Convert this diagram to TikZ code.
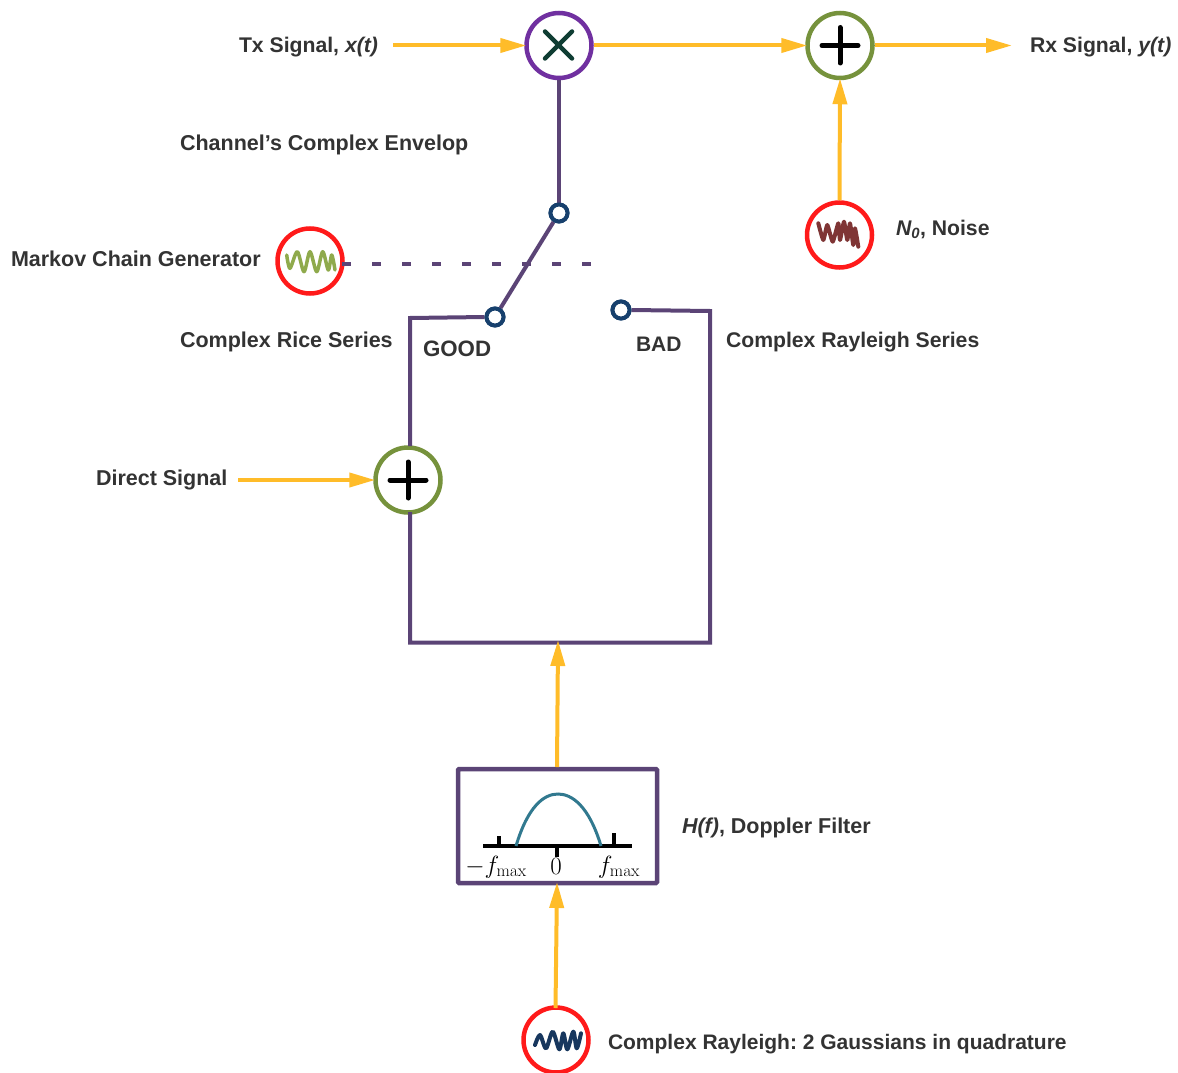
\documentclass[tikz,border=0pt]{standalone}
\usepackage[no-math]{fontspec}
\setmainfont{Liberation Sans}
\usetikzlibrary{arrows.meta,shadows}
\definecolor{flow}{HTML}{FFBC29}
\definecolor{wire}{HTML}{5B4476}
\definecolor{ringpurple}{HTML}{7030A0}
\definecolor{ringgreen}{HTML}{76923C}
\definecolor{ringred}{HTML}{FF1A1A}
\definecolor{switchblue}{HTML}{17406D}
\definecolor{txt}{HTML}{333333}
\definecolor{crossgreen}{HTML}{0F3D33}
\definecolor{bellteal}{HTML}{31798F}
\definecolor{wavegreen}{HTML}{8FAA4C}
\definecolor{wavered}{HTML}{7F3535}
\definecolor{waveblue}{HTML}{17375E}
\tikzset{
  ring/.style={circle,draw=#1,line width=4.5pt,fill=white,minimum size=65pt,inner sep=0pt,
    drop shadow={shadow xshift=1.5pt,shadow yshift=-1.5pt,opacity=.3,fill=gray}},
  contact/.style={circle,draw=switchblue,line width=4pt,fill=white,minimum size=17pt,inner sep=0pt},
  flowarrow/.style={draw=flow,line width=4pt,-{Triangle[length=26pt,width=14pt,fill=flow]},shorten >=-2pt},
  wireline/.style={draw=wire,line width=4pt},
  lbl/.style={anchor=base west,text=txt,font=\fontsize{21.5pt}{24pt}\selectfont\bfseries\frenchspacing,inner sep=0pt,outer sep=0pt},
  lblsmall/.style={lbl,font=\fontsize{21.2pt}{24pt}\selectfont\bfseries\frenchspacing},
  mathlbl/.style={anchor=base,text=black,font=\fontsize{23pt}{26pt}\selectfont,inner sep=0pt},
  wave/.style={line width=4pt,line join=round,line cap=round}
}
\begin{document}
\begin{tikzpicture}[x=1pt,y=-1pt]
\useasboundingbox (0,0) rectangle (1178,1073);
% junctions and sources
\node[ring=ringpurple] (mult) at (559,45.5) {};
\node[ring=ringgreen] (sumrx) at (840,45.5) {};
\node[ring=ringred] (noise) at (839.5,235) {};
\node[ring=ringred] (markov) at (310,261) {};
\node[ring=ringgreen] (sumd) at (408,480) {};
\node[ring=ringred] (gauss) at (556,1040) {};
\node[draw=wire,line width=4.5pt,fill=white,minimum width=199pt,minimum height=114pt,inner sep=0pt,rounded corners=1pt] (filter) at (557.5,826) {};
% free ends
\coordinate (txin) at (393,45.5);
\coordinate (rxout) at (1010,45.5);
\coordinate (dsin) at (238,480);
\coordinate (tl) at (410,318);
\coordinate (dl) at (410,512);
\coordinate (dt) at (410,446);
\coordinate (bl) at (410,642.5);
\coordinate (br) at (710,642.5);
\coordinate (tr) at (710,311);
\coordinate (boxin) at (558,642);
\coordinate (dashend) at (592,264);
\coordinate (dashstart) at (342,264);
\coordinate (filtertop) at (557,767);
\coordinate (filterbot) at (557,884);
\coordinate (gtop) at (555.5,1008);
% wires
\node[contact] (swtop) at (559,213) {};
\node[contact] (swgood) at (495,317) {};
\node[contact] (swbad) at (621,310) {};
\draw[wireline] (mult.south) -- (swtop.north);
\draw[wireline] (swtop) -- (swgood);
\draw[wireline,line join=miter] (swgood.west) -- (tl) -- (dt);
\draw[wireline,line join=miter] (dl) -- (bl) -- (br) -- (tr) -- (swbad.east);
\draw[draw=wire,line width=4pt,dash pattern=on 8.5pt off 21.5pt] (dashstart) -- (dashend);
% redraw contacts on top of wires
\node[contact] at (swtop) {};
\node[contact] at (swgood) {};
\node[contact] at (swbad) {};
% yellow flows
\draw[flowarrow] (txin) -- (mult.west);
\draw[flowarrow] (mult.east) -- (sumrx.west);
\draw[flowarrow] (sumrx.east) -- (rxout);
\draw[flowarrow] (noise.north) -- (sumrx.south);
\draw[flowarrow] (dsin) -- (sumd.west);
\draw[flowarrow] (filtertop) -- (boxin);
\draw[flowarrow] (gtop) -- (filterbot);
% glyphs
\draw[crossgreen,line width=4.5pt,line cap=round] (545,31.5) -- (572,58.5) (572,31.5) -- (545,58.5);
\draw[black,line width=5pt,line cap=round] (822,45.5) -- (858,45.5) (840,27.5) -- (840,63);
\draw[black,line width=5pt,line cap=round] (390,480) -- (426,480) (408,462) -- (408,498);
% waves
\draw[wave,wavegreen,line width=3.5pt] plot[smooth,tension=0.5] coordinates {(286.7,255)(290,268.3)(297.3,251.7)(304,271.7)(310,251.7)(316.7,271.7)(322.7,251.7)(328.3,270)(331.7,255)(335,270)};
\draw[wave,wavered] plot[tension=0.3,smooth] coordinates {(818.3,223.3)(823.3,240)(827.3,225)(832.7,241.7)(838.3,223.3)(840,240)(844,221.7)(847.3,240)(850,223.3)(853.3,245)(855,228.3)(858.3,246.7)};
\draw[wave,waveblue] plot[smooth,tension=0.5] coordinates {(535,1045)(540,1035)(546,1048.3)(552.7,1031.7)(559.3,1049.3)(563.3,1033.3)(567.3,1049.3)(573.3,1031.7)(576.7,1048.3)(581,1033.3)};
% Doppler filter
\draw[black,line width=4pt] (483,846) -- (632,846);
\draw[black,line width=4pt] (498.5,836) -- (498.5,846) (614,833) -- (614,846) (557,846) -- (557,857);
\draw[bellteal,line width=3pt] (516,846) .. controls (528,806) and (544,794) .. (558,794) .. controls (572,794) and (589,806) .. (601,846);
\node[mathlbl] (fneg) at (496,873) {$-f_{\max}$};
\node[mathlbl] (fzero) at (556,874) {$0$};
\node[mathlbl] (fpos) at (619,873) {$f_{\max}$};
% labels
\node[lblsmall] (ltx) at (239,52.5) {Tx Signal, \textit{x(t)}};
\node[lblsmall] (lrx) at (1030,52.5) {Rx Signal, \textit{y(t)}};
\node[lbl] (lenv) at (180,150) {Channel's Complex Envelop};
\node[lblsmall] (lnoise) at (896,235) {\textit{N\textsubscript{0}}, Noise};
\node[lbl] (lmarkov) at (11,266) {Markov Chain Generator};
\node[lbl] (lrice) at (180,347) {Complex Rice Series};
\node[lbl,font=\fontsize{22.3pt}{24pt}\selectfont\bfseries] (lgood) at (423,356) {GOOD};
\node[lbl,font=\fontsize{21pt}{24pt}\selectfont\bfseries] (lbad) at (636,351) {BAD};
\node[lblsmall] (lray) at (726,347) {Complex Rayleigh Series};
\node[lbl] (ldirect) at (96,485) {Direct Signal};
\node[lbl] (ldopp) at (682,833) {\textit{H(f)}, Doppler Filter};
\node[lbl,font=\fontsize{21pt}{24pt}\selectfont\bfseries\frenchspacing] (lgauss) at (608,1049) {Complex Rayleigh: 2 Gaussians in quadrature};
\end{tikzpicture}
\end{document}
